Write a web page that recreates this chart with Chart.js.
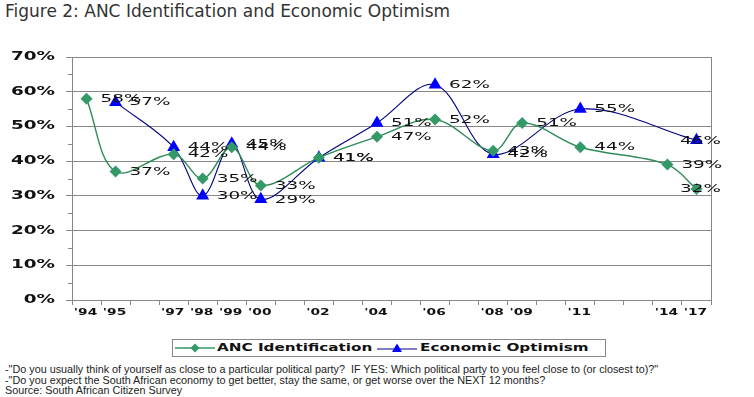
<!DOCTYPE html>
<html>
<head>
<meta charset="utf-8">
<script src="https://cdn.jsdelivr.net/npm/chart.js@4/dist/chart.umd.min.js"></script>
<style>
  body { margin: 0; background: #fff; width: 754px; height: 397px; position: relative; overflow: hidden; font-family: "DejaVu Sans", sans-serif; }
  #title { position: absolute; left: 5px; top: 1px; font-size: 17px; color: #333; white-space: nowrap; }
  #wrap { position: absolute; left: 0; top: 0; width: 754px; height: 330px; }
  #legend { position: absolute; left: 172px; top: 339px; width: 432px; height: 16px; border: 1px solid #888; font-size: 10px; font-weight: bold; color: #111; white-space: nowrap; }
  #legend svg, #legend span { position: absolute; }
  #legend span { top: 1px; line-height: 14px; transform: scaleX(1.52); transform-origin: 0 50%; }
  #notes { position: absolute; left: 5px; top: 364px; font-family: "Liberation Sans", sans-serif; font-size: 10.8px; line-height: 10.7px; color: #222; white-space: nowrap; }
</style>
</head>
<body>
<div id="title">Figure 2: ANC Identification and Economic Optimism</div>
<div id="wrap"><canvas id="myChart"></canvas></div>
<div id="legend"></div>
<div id="notes">
  -"Do you usually think of yourself as close to a particular political party?&nbsp; IF YES: Which political party to you feel close to (or closest to)?"<br>
  -"Do you expect the South African economy to get better, stay the same, or get worse over the NEXT 12 months?<br>
  Source: South African Citizen Survey
</div>
<script>
(() => {
  'use strict'

  // survey years (blank slots keep the spacing of the original axis)
  var year_labels = ["'94", "'95", "", "'97", "'98", "'99", "'00", "", "'02", "", "'04", "", "'06", "", "'08", "'09", "", "'11", "", "", "'14", "'17"]

  var anc_name = 'ANC Identification'
  var anc_data = [58, 37, null, 42, 35, 44, 33, null, 41, null, 47, null, 52, null, 43, 51, null, 44, null, null, 39, 32]

  var econ_name = 'Economic Optimism'
  var econ_data = [null, 57, null, 44, 30, 45, 29, null, 41, null, 51, null, 62, null, 42, null, null, 55, null, null, null, 46]

  var green = '#339966'
  var blue = '#0000FF'

  // legend
  document.getElementById('legend').innerHTML =
    '<svg width="40" height="12" style="left:2px;top:2px"><line x1="0" y1="6" x2="40" y2="6" stroke="' + green + '" stroke-width="1.5"/>' +
    '<polygon points="20,1.5 24.5,6 20,10.5 15.5,6" fill="' + green + '"/></svg>' +
    '<span style="left:44px">' + anc_name + '</span>' +
    '<svg width="40" height="12" style="left:204px;top:2px"><line x1="0" y1="7" x2="40" y2="7" stroke="#000080" stroke-width="1.2"/>' +
    '<polygon points="20,1.5 25,10 15,10" fill="' + blue + '"/></svg>' +
    '<span style="left:247px">' + econ_name + '</span>'

  // text drawn wide, like the original export
  function wideText(c, text, x, y, k, align) {
    const w = c.measureText(text).width * k
    const left = align === 'right' ? x - w : (align === 'center' ? x - w / 2 : x)
    c.save()
    c.translate(left, y)
    c.scale(k, 1)
    c.textAlign = 'left'
    c.fillText(text, 0, 0)
    c.restore()
  }

  // value labels to the right of each point (last column sits on the point)
  const valueLabels = {
    id: 'valueLabels',
    afterDatasetsDraw(chart) {
      const c = chart.ctx
      const last = chart.data.labels.length - 1
      c.save()
      c.font = '10.5px "DejaVu Sans"'
      c.fillStyle = '#111'
      c.textBaseline = 'middle'
      chart.data.datasets.forEach((ds, i) => {
        chart.getDatasetMeta(i).data.forEach((pt, j) => {
          if (ds.data[j] == null) return
          if (j === last) {
            wideText(c, ds.data[j] + '%', pt.x + 4, pt.y + 0.5, 1.75, 'center')
          } else {
            wideText(c, ds.data[j] + '%', pt.x + 14, pt.y + 0.5, 1.75, 'left')
          }
        })
      })
      c.restore()
    }
  }

  // axis labels
  const axisText = {
    id: 'axisText',
    afterDraw(chart) {
      const c = chart.ctx
      const xs = chart.scales.x
      const ys = chart.scales.y
      c.save()
      c.fillStyle = '#111'
      c.textBaseline = 'middle'
      c.font = 'bold 11.5px "DejaVu Sans"'
      ys.ticks.forEach((t, i) => {
        wideText(c, t.label, ys.right - 17, ys.getPixelForTick(i), 1.6, 'right')
      })
      c.font = 'bold 9.5px "DejaVu Sans"'
      xs.ticks.forEach((t, i) => {
        if (!t.label) return
        wideText(c, t.label, xs.getPixelForTick(i) - 1, xs.top + 13, 1.45, 'center')
      })
      c.restore()
    }
  }

  // minor ticks on the value axis and right border of the plot
  const frame = {
    id: 'frame',
    beforeDatasetsDraw(chart) {
      const c = chart.ctx
      const y = chart.scales.y
      const area = chart.chartArea
      c.save()
      c.strokeStyle = '#888'
      c.lineWidth = 1
      c.beginPath()
      for (let v = 5; v < 70; v += 10) {
        const py = Math.round(y.getPixelForValue(v)) + 0.5
        c.moveTo(area.left - 4, py)
        c.lineTo(area.left, py)
      }
      c.moveTo(Math.round(area.right) + 0.5, area.top)
      c.lineTo(Math.round(area.right) + 0.5, area.bottom)
      c.stroke()
      c.restore()
    }
  }

  const ctx = document.getElementById('myChart')
  // eslint-disable-next-line no-unused-vars
  const myChart = new Chart(ctx, {
    type: 'line',
    data: {
      labels: year_labels,
      datasets: [{
        label: anc_name,
        data: anc_data,
        spanGaps: true,
        tension: 0.35,
        borderColor: '#2E8B57',
        borderWidth: 1.4,
        backgroundColor: green,
        pointStyle: 'rectRot',
        pointRadius: 6,
        pointBackgroundColor: green,
        pointBorderColor: green,
        pointBorderWidth: 0
      }, {
        label: econ_name,
        data: econ_data,
        spanGaps: true,
        tension: 0.35,
        borderColor: '#000080',
        borderWidth: 1.1,
        backgroundColor: blue,
        pointStyle: 'triangle',
        pointRadius: 7.5,
        pointBackgroundColor: blue,
        pointBorderColor: blue,
        pointBorderWidth: 0
      }]
    },
    options: {
      responsive: true,
      maintainAspectRatio: false,
      animation: false,
      layout: { padding: { left: 0, right: 43, top: 57, bottom: 0 } },
      plugins: {
        legend: { display: false },
        tooltip: { enabled: false }
      },
      scales: {
        x: {
          offset: true,
          afterFit: (s) => { s.height = 30 },
          grid: { offset: true, drawOnChartArea: false, tickLength: 5, color: '#888' },
          border: { color: '#888' },
          ticks: { autoSkip: false, maxRotation: 0, color: 'transparent', font: { family: 'DejaVu Sans', size: 9, weight: 'bold' } }
        },
        y: {
          min: 0,
          max: 70,
          afterFit: (s) => { s.width = 72 },
          grid: { color: '#888', tickLength: 6 },
          border: { color: '#888' },
          ticks: { stepSize: 10, color: 'transparent', font: { family: 'DejaVu Sans', size: 11, weight: 'bold' }, callback: (v) => v + '%' }
        }
      }
    },
    plugins: [valueLabels, axisText, frame]
  })
})()
</script>
</body>
</html>
